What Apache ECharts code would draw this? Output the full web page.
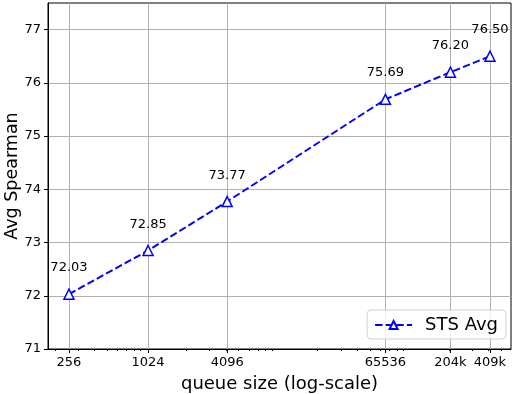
<!DOCTYPE html>
<html>
<head>
<meta charset="utf-8">
<script src="https://cdn.jsdelivr.net/npm/echarts@6/dist/echarts.min.js"></script>
<style>
  html, body { margin: 0; padding: 0; background: #fff; }
  #chart { width: 516px; height: 394px; }
</style>
</head>
<body>
<div id="chart"></div>
<script>
const queueSizes = [256, 1024, 4096, 65536, 204800, 409600];
const tickLabels = ["256", "1024", "4096", "65536", "204k", "409k"];
const stsAvg = [72.03, 72.85, 73.77, 75.69, 76.2, 76.5];
const yTicks = [71, 72, 73, 74, 75, 76, 77];

// matplotlib style minor ticks at 2..9 x 10^k
const minorTicks = [];
[100, 1000, 10000, 100000].forEach((p) => {
  for (let m = 2; m <= 9; m++) minorTicks.push(m * p);
});

const font = "DejaVu Sans";
const chart = echarts.init(document.getElementById("chart"));

const options = {
  animation: false,
  textStyle: { fontFamily: font, color: "#000" },
  grid: {
    left: 48,
    right: 5,
    top: 3,
    bottom: 45,
    outerBoundsMode: "none",
    containLabel: false,
    show: true,
    borderColor: "#000",
    borderWidth: 1,
  },
  xAxis: [
    {
      type: "log",
      logBase: 2,
      min: 177.3,
      max: 592000,
      name: "queue size (log-scale)",
      nameLocation: "middle",
      nameGap: 26,
      nameTextStyle: { fontSize: 18, fontFamily: font, color: "#000" },
      axisLine: { show: true, lineStyle: { color: "#000", width: 1 } },
      axisTick: {
        show: true,
        length: 4,
        lineStyle: { color: "#000" },
        customValues: queueSizes,
      },
      axisLabel: {
        fontSize: 13,
        fontFamily: font,
        color: "#000",
        margin: 7,
        customValues: queueSizes,
        formatter: (v) => tickLabels[queueSizes.indexOf(v)] || "",
      },
      splitLine: { show: true, lineStyle: { color: "#b0b0b0", width: 1 } },
    },
    {
      type: "log",
      logBase: 2,
      min: 177.3,
      max: 592000,
      position: "bottom",
      axisLine: { show: false },
      axisTick: {
        show: true,
        length: 2,
        lineStyle: { color: "#000" },
        customValues: minorTicks,
      },
      axisLabel: { show: false },
      splitLine: { show: false },
    },
  ],
  yAxis: {
    type: "value",
    min: 71,
    max: 77.5,
    name: "Avg Spearman",
    nameLocation: "middle",
    nameGap: 27,
    nameMoveOverlap: false,
    nameTextStyle: { fontSize: 17.5, fontFamily: font, color: "#000" },
    axisLine: { show: true, lineStyle: { color: "#000", width: 1 } },
    axisTick: {
      show: true,
      length: 4,
      lineStyle: { color: "#000" },
      customValues: yTicks,
    },
    axisLabel: {
      fontSize: 13,
      fontFamily: font,
      color: "#000",
      margin: 7,
      customValues: yTicks,
    },
    splitLine: { show: true, lineStyle: { color: "#b0b0b0", width: 1 } },
  },
  legend: {
    right: 10,
    bottom: 55,
    orient: "horizontal",
    itemWidth: 37,
    itemHeight: 10,
    padding: [6, 8, 5, 7],
    borderColor: "#d0d0d0",
    borderWidth: 1,
    borderRadius: 4,
    backgroundColor: "rgba(255,255,255,0.8)",
    textStyle: {
      fontSize: 18,
      fontFamily: font,
      color: "#000",
      padding: [0, 0, 0, 8],
    },
    data: ["STS Avg"],
  },
  series: [
    {
      name: "STS Avg",
      type: "line",
      data: queueSizes.map((q, i) => [q, stsAvg[i]]),
      symbol: "triangle",
      symbolSize: 10,
      lineStyle: { color: "#0000ff", width: 2, type: [7.4, 3.2] },
      itemStyle: { color: "#fff", borderColor: "#0000ff", borderWidth: 1.5 },
      label: {
        show: true,
        position: "top",
        distance: 14,
        fontSize: 13,
        fontFamily: font,
        color: "#000",
        formatter: (p) => p.value[1].toFixed(2),
      },
    },
  ],
};

chart.setOption(options);
</script>
</body>
</html>
